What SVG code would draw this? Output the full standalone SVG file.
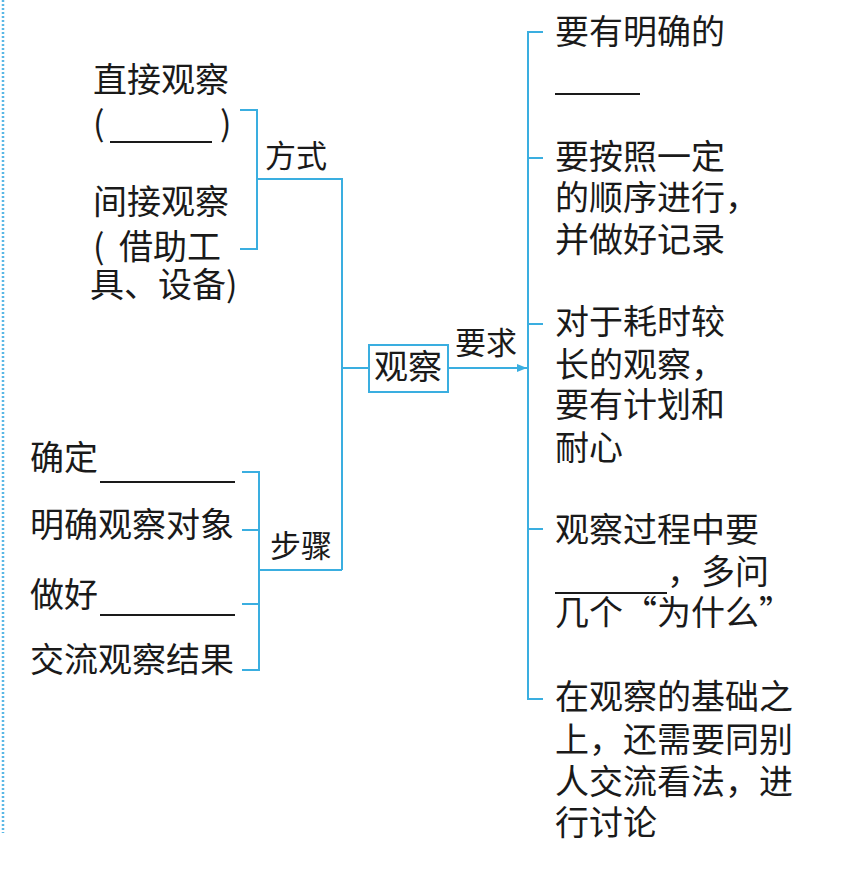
<svg xmlns="http://www.w3.org/2000/svg" width="850" height="870" viewBox="0 0 850 870">
<style>
text{font-family:"Noto Sans CJK SC","Noto Sans",sans-serif;font-size:34px;fill:#1a1a1a}
.sm{font-size:31px}
.ln{stroke:#3aaee0;stroke-width:2;fill:none}
.bl{stroke:#1a1a1a;stroke-width:2;fill:none}
</style>
<defs>
<marker id="arr" viewBox="0 0 10 8" refX="10" refY="4" markerWidth="10" markerHeight="8" markerUnits="userSpaceOnUse" orient="auto">
<path d="M0,0 L10,4 L0,8 Z" fill="#3aaee0"/>
</marker>
</defs>
<rect width="850" height="870" fill="#ffffff"/>
<line x1="3" y1="0" x2="3" y2="833" stroke="#5ab8e6" stroke-width="2.5" stroke-dasharray="2 2"/>
<g id="connectors">
<path class="ln" d="M240,110 H257 V249 H240 M257,179 H342 V570"/>
<path class="ln" d="M242,472 H259 V670 H242 M242,530 H259 M242,604 H259 M259,570 H342"/>
<path class="ln" d="M342,368 H369"/>
<path class="ln" d="M448,368 H527" marker-end="url(#arr)"/>
<path class="ln" d="M543,32 H528 V699 H543 M528,158 H543 M528,324 H543 M528,529 H543"/>
</g>
<g id="label-fangshi"><text class="sm" x="265" y="167">方式</text></g>
<g id="label-buzhou"><text class="sm" x="270" y="557">步骤</text></g>
<g id="label-yaoqiu"><text class="sm" x="455" y="354">要求</text></g>
<g id="node-center">
<rect x="369" y="345" width="79" height="47" fill="#ffffff" stroke="#3aaee0" stroke-width="2"/>
<text x="374" y="379">观察</text>
</g>
<g id="node-direct">
<text x="93" y="92">直接观察</text>
<text x="93" y="136">(</text>
<line class="bl" x1="110" y1="142" x2="212" y2="142"/>
<text x="220" y="136">)</text>
</g>
<g id="node-indirect">
<text x="93" y="214">间接观察</text>
<text x="93" y="259">(</text>
<text x="119" y="259">借助工</text>
<text x="90" y="297">具、设备)</text>
</g>
<g id="node-step1">
<text x="30" y="470">确定</text>
<line class="bl" x1="100" y1="482" x2="235" y2="482"/>
</g>
<g id="node-step2"><text x="30" y="537">明确观察对象</text></g>
<g id="node-step3">
<text x="30" y="607">做好</text>
<line class="bl" x1="100" y1="615" x2="235" y2="615"/>
</g>
<g id="node-step4"><text x="30" y="672">交流观察结果</text></g>
<g id="node-req1">
<text x="555" y="44">要有明确的</text>
<line class="bl" x1="555" y1="94" x2="640" y2="94"/>
</g>
<g id="node-req2">
<text x="555" y="169">要按照一定</text>
<text x="555" y="210">的顺序进行，</text>
<text x="555" y="252">并做好记录</text>
</g>
<g id="node-req3">
<text x="555" y="334">对于耗时较</text>
<text x="555" y="377">长的观察，</text>
<text x="555" y="417">要有计划和</text>
<text x="555" y="460">耐心</text>
</g>
<g id="node-req4">
<text x="555" y="542">观察过程中要</text>
<line class="bl" x1="555" y1="593" x2="667" y2="593"/>
<text x="667" y="584">，多问</text>
<text x="555" y="625">几个“为什么”</text>
</g>
<g id="node-req5">
<text x="555" y="709">在观察的基础之</text>
<text x="555" y="752">上，还需要同别</text>
<text x="555" y="794">人交流看法，进</text>
<text x="555" y="835">行讨论</text>
</g>
</svg>
